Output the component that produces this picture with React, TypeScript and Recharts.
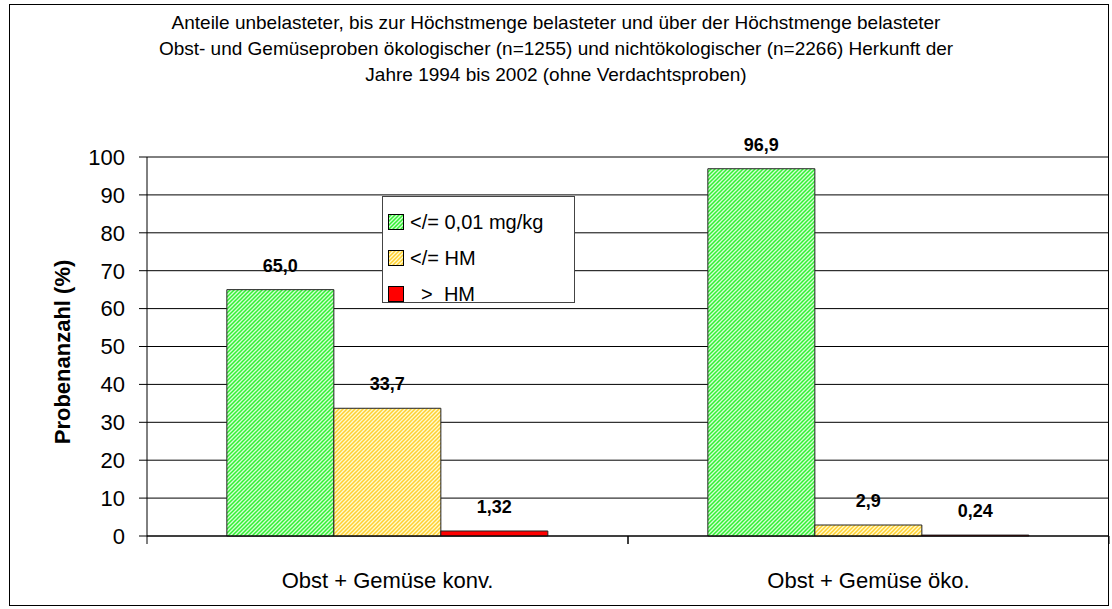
import * as React from 'react';
import { BarChart, Bar, XAxis, YAxis, CartesianGrid, LabelList, Legend } from 'recharts';

// chart values
const categories = ['Obst + Gemüse konv.', 'Obst + Gemüse öko.'];
const seriesNames = ['</= 0,01 mg/kg', '</= HM', '  >  HM'];
const unbelastet = [65.0, 96.9];
const bisHM = [33.7, 2.9];
const ueberHM = [1.32, 0.24];
const yTicks = [0, 10, 20, 30, 40, 50, 60, 70, 80, 90, 100];

const titleLines = [
  'Anteile unbelasteter, bis zur Höchstmenge belasteter und über der Höchstmenge belasteter',
  'Obst- und Gemüseproben ökologischer (n=1255) und nichtökologischer (n=2266) Herkunft der',
  'Jahre 1994 bis 2002 (ohne Verdachtsproben)',
];

const data = categories.map((name, i) => ({
  name,
  a: unbelastet[i],
  b: bisHM[i],
  c: ueberHM[i],
}));

const W = 1112;
const H = 609;
const MARGIN = { top: 157, right: 3, bottom: 0, left: 67 };
const Y_AXIS_W = 80;
const X_AXIS_H = 73;
const PLOT_W = W - MARGIN.left - MARGIN.right - Y_AXIS_W;
const HALF_BAND = PLOT_W / categories.length / 2;
const PLOT_BOTTOM = H - X_AXIS_H;

const FONT = '"Liberation Sans", Arial, sans-serif';

const fills = ['url(#hatchGreen)', 'url(#hatchYellow)', '#ff0000'];

// German decimal comma, keep one decimal on whole numbers (65,0)
const fmt = (v: any) => {
  const n = Number(v);
  const s = Number.isInteger(n) ? n.toFixed(1) : String(n);
  return s.replace('.', ',');
};

function Patterns({ suffix = '' }: { suffix?: string }) {
  return (
    <defs>
      <pattern id={'hatchGreen' + suffix} width="4" height="4" patternUnits="userSpaceOnUse">
        <rect width="4" height="4" fill="#d4ffd4" />
        <path d="M0,4 L4,0 M-1,1 L1,-1 M3,5 L5,3" stroke="#33f033" strokeWidth="1.5" />
      </pattern>
      <pattern id={'hatchYellow' + suffix} width="4" height="4" patternUnits="userSpaceOnUse">
        <rect width="4" height="4" fill="#fffad0" />
        <path d="M0,4 L4,0 M-1,1 L1,-1 M3,5 L5,3" stroke="#ffd030" strokeWidth="1.5" />
      </pattern>
    </defs>
  );
}

const XTick = (props: any) => {
  const { x, payload } = props;
  return (
    <g>
      <line x1={x - HALF_BAND} x2={x - HALF_BAND} y1={PLOT_BOTTOM} y2={PLOT_BOTTOM + 8} stroke="#000" />
      <line x1={x + HALF_BAND} x2={x + HALF_BAND} y1={PLOT_BOTTOM} y2={PLOT_BOTTOM + 8} stroke="#000" />
      <text x={x} y={PLOT_BOTTOM + 52} textAnchor="middle" fontSize={22} fill="#000" fontFamily={FONT}>
        {payload.value}
      </text>
    </g>
  );
};

const LegendBox = () => {
  const legendFills = ['url(#hatchGreenL)', 'url(#hatchYellowL)', '#ff0000'];
  return (
    <div
      style={{
        width: 193,
        height: 107,
        border: '1px solid #444',
        background: '#fff',
        boxSizing: 'border-box',
        paddingTop: 7,
        fontFamily: FONT,
        textAlign: 'left',
      }}
    >
      <svg width="0" height="0" style={{ position: 'absolute' }}>
        <Patterns suffix="L" />
      </svg>
      {seriesNames.map((s, i) => (
        <div key={s} style={{ display: 'flex', alignItems: 'center', height: 36, paddingLeft: 5 }}>
          <svg width={16} height={16} style={{ marginRight: 6 }}>
            <rect x={0.5} y={0.5} width={15} height={15} fill={legendFills[i]} stroke="#000" />
          </svg>
          <span style={{ fontSize: 20, whiteSpace: 'pre', color: '#000' }}>{s}</span>
        </div>
      ))}
    </div>
  );
};

export default function App() {
  return (
    <div style={{ position: 'absolute', left: 0, top: 0, width: W, height: H, background: '#fff', fontFamily: FONT }}>
      <div
        style={{
          position: 'absolute',
          left: 9,
          top: 4,
          width: 1100,
          height: 602,
          border: '1px solid #000',
          boxSizing: 'border-box',
        }}
      />
      <div
        style={{
          position: 'absolute',
          left: 0,
          top: 10,
          width: W,
          textAlign: 'center',
          fontSize: 19,
          lineHeight: '26px',
          color: '#000',
        }}
      >
        {titleLines.map((l) => (
          <div key={l}>{l}</div>
        ))}
      </div>
      <div
        style={{
          position: 'absolute',
          left: 63,
          top: 352,
          transform: 'translate(-50%, -50%) rotate(-90deg)',
          fontSize: 22,
          fontWeight: 'bold',
          whiteSpace: 'nowrap',
          color: '#000',
        }}
      >
        Probenanzahl (%)
      </div>
      <div style={{ position: 'absolute', left: 0, top: 0 }}>
        <BarChart width={W} height={H} data={data} margin={MARGIN} barCategoryGap="16.6%" barGap={0}>
          <Patterns />
          <CartesianGrid vertical={false} stroke="#000" />
          <XAxis
            dataKey="name"
            height={X_AXIS_H}
            axisLine={{ stroke: '#000' }}
            tickLine={false}
            tick={<XTick />}
            interval={0}
          />
          <YAxis
            width={Y_AXIS_W}
            domain={[0, 100]}
            ticks={yTicks}
            interval={0}
            tickSize={8}
            tickMargin={14}
            axisLine={{ stroke: '#000' }}
            tickLine={{ stroke: '#000' }}
            tick={{ fontSize: 22, fill: '#000', fontFamily: FONT }}
          />
          <Legend
            layout="horizontal"
            verticalAlign="middle"
            align="center"
            content={<LegendBox />}
            wrapperStyle={{ position: 'absolute', left: 382, top: 196, width: 193, height: 107 }}
          />
          {['a', 'b', 'c'].map((k, i) => (
            <Bar
              key={k}
              dataKey={k}
              name={seriesNames[i]}
              fill={fills[i]}
              stroke="#222"
              strokeWidth={1}
              isAnimationActive={false}
            >
              <LabelList
                dataKey={k}
                position="top"
                offset={18}
                formatter={fmt}
                style={{ fontSize: 18, fontWeight: 'bold', fill: '#000', fontFamily: FONT }}
              />
            </Bar>
          ))}
        </BarChart>
      </div>
    </div>
  );
}
